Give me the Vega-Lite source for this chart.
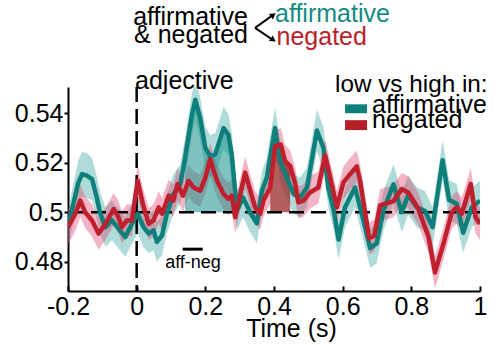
{
  "$schema": "https://vega.github.io/schema/vega-lite/v6.json",
  "width": 412,
  "height": 204,
  "autosize": "none",
  "padding": {"left": 68, "top": 87, "right": 20, "bottom": 54},
  "config": {
    "view": {"stroke": null},
    "font": "Liberation Sans",
    "axis": {
      "grid": false,
      "domainColor": "black",
      "domainWidth": 2,
      "tickColor": "black",
      "tickWidth": 2,
      "labelFont": "Liberation Sans",
      "labelFontSize": 25,
      "labelColor": "black",
      "titleFont": "Liberation Sans",
      "titleFontSize": 25,
      "titleFontWeight": "normal",
      "titleColor": "black"
    }
  },
  "datasets": {
    "one": [{}],
    "series": [
      {"cond": "affirmative", "t": -0.2, "v": 0.494, "lo": 0.4875, "hi": 0.5005},
      {"cond": "affirmative", "t": -0.185, "v": 0.503, "lo": 0.495, "hi": 0.511},
      {"cond": "affirmative", "t": -0.17, "v": 0.512, "lo": 0.503, "hi": 0.521},
      {"cond": "affirmative", "t": -0.159, "v": 0.5154, "lo": 0.5064, "hi": 0.5244},
      {"cond": "affirmative", "t": -0.145, "v": 0.5148, "lo": 0.5058, "hi": 0.5238},
      {"cond": "affirmative", "t": -0.13, "v": 0.5134, "lo": 0.5049, "hi": 0.5219},
      {"cond": "affirmative", "t": -0.118, "v": 0.507, "lo": 0.4985, "hi": 0.5155},
      {"cond": "affirmative", "t": -0.106, "v": 0.4995, "lo": 0.491, "hi": 0.508},
      {"cond": "affirmative", "t": -0.091, "v": 0.494, "lo": 0.486, "hi": 0.502},
      {"cond": "affirmative", "t": -0.072, "v": 0.4967, "lo": 0.4887, "hi": 0.5047},
      {"cond": "affirmative", "t": -0.053, "v": 0.4934, "lo": 0.4854, "hi": 0.5014},
      {"cond": "affirmative", "t": -0.033, "v": 0.49, "lo": 0.482, "hi": 0.498},
      {"cond": "affirmative", "t": -0.014, "v": 0.4953, "lo": 0.4873, "hi": 0.5033},
      {"cond": "affirmative", "t": 0.003, "v": 0.4994, "lo": 0.4914, "hi": 0.5074},
      {"cond": "affirmative", "t": 0.02, "v": 0.494, "lo": 0.486, "hi": 0.502},
      {"cond": "affirmative", "t": 0.035, "v": 0.4914, "lo": 0.4834, "hi": 0.4994},
      {"cond": "affirmative", "t": 0.049, "v": 0.4927, "lo": 0.4847, "hi": 0.5007},
      {"cond": "affirmative", "t": 0.059, "v": 0.488, "lo": 0.48, "hi": 0.496},
      {"cond": "affirmative", "t": 0.074, "v": 0.4907, "lo": 0.4827, "hi": 0.4987},
      {"cond": "affirmative", "t": 0.088, "v": 0.4994, "lo": 0.4914, "hi": 0.5074},
      {"cond": "affirmative", "t": 0.107, "v": 0.5074, "lo": 0.4994, "hi": 0.5154},
      {"cond": "affirmative", "t": 0.127, "v": 0.5114, "lo": 0.5034, "hi": 0.5194},
      {"cond": "affirmative", "t": 0.141, "v": 0.522, "lo": 0.514, "hi": 0.53},
      {"cond": "affirmative", "t": 0.161, "v": 0.5394, "lo": 0.5309, "hi": 0.5479},
      {"cond": "affirmative", "t": 0.171, "v": 0.5454, "lo": 0.5369, "hi": 0.5539},
      {"cond": "affirmative", "t": 0.185, "v": 0.538, "lo": 0.5295, "hi": 0.5465},
      {"cond": "affirmative", "t": 0.2, "v": 0.526, "lo": 0.5175, "hi": 0.5345},
      {"cond": "affirmative", "t": 0.214, "v": 0.5227, "lo": 0.5142, "hi": 0.5312},
      {"cond": "affirmative", "t": 0.229, "v": 0.5234, "lo": 0.5149, "hi": 0.5319},
      {"cond": "affirmative", "t": 0.253, "v": 0.534, "lo": 0.5255, "hi": 0.5425},
      {"cond": "affirmative", "t": 0.267, "v": 0.5314, "lo": 0.5229, "hi": 0.5399},
      {"cond": "affirmative", "t": 0.277, "v": 0.5234, "lo": 0.5149, "hi": 0.5319},
      {"cond": "affirmative", "t": 0.292, "v": 0.5007, "lo": 0.4927, "hi": 0.5087},
      {"cond": "affirmative", "t": 0.31, "v": 0.506, "lo": 0.498, "hi": 0.514},
      {"cond": "affirmative", "t": 0.33, "v": 0.5, "lo": 0.492, "hi": 0.508},
      {"cond": "affirmative", "t": 0.35, "v": 0.4955, "lo": 0.4875, "hi": 0.5035},
      {"cond": "affirmative", "t": 0.365, "v": 0.5087, "lo": 0.5007, "hi": 0.5167},
      {"cond": "affirmative", "t": 0.379, "v": 0.514, "lo": 0.506, "hi": 0.522},
      {"cond": "affirmative", "t": 0.403, "v": 0.534, "lo": 0.5255, "hi": 0.5425},
      {"cond": "affirmative", "t": 0.418, "v": 0.5207, "lo": 0.5127, "hi": 0.5287},
      {"cond": "affirmative", "t": 0.437, "v": 0.514, "lo": 0.506, "hi": 0.522},
      {"cond": "affirmative", "t": 0.457, "v": 0.5074, "lo": 0.4994, "hi": 0.5154},
      {"cond": "affirmative", "t": 0.476, "v": 0.506, "lo": 0.498, "hi": 0.514},
      {"cond": "affirmative", "t": 0.496, "v": 0.51, "lo": 0.502, "hi": 0.518},
      {"cond": "affirmative", "t": 0.525, "v": 0.533, "lo": 0.5245, "hi": 0.5415},
      {"cond": "affirmative", "t": 0.544, "v": 0.526, "lo": 0.5175, "hi": 0.5345},
      {"cond": "affirmative", "t": 0.558, "v": 0.51, "lo": 0.502, "hi": 0.518},
      {"cond": "affirmative", "t": 0.575, "v": 0.5, "lo": 0.492, "hi": 0.508},
      {"cond": "affirmative", "t": 0.588, "v": 0.489, "lo": 0.481, "hi": 0.497},
      {"cond": "affirmative", "t": 0.607, "v": 0.502, "lo": 0.494, "hi": 0.51},
      {"cond": "affirmative", "t": 0.636, "v": 0.51, "lo": 0.502, "hi": 0.518},
      {"cond": "affirmative", "t": 0.66, "v": 0.497, "lo": 0.489, "hi": 0.505},
      {"cond": "affirmative", "t": 0.68, "v": 0.4855, "lo": 0.4775, "hi": 0.4935},
      {"cond": "affirmative", "t": 0.699, "v": 0.4874, "lo": 0.4794, "hi": 0.4954},
      {"cond": "affirmative", "t": 0.719, "v": 0.5008, "lo": 0.4928, "hi": 0.5088},
      {"cond": "affirmative", "t": 0.748, "v": 0.5113, "lo": 0.5033, "hi": 0.5193},
      {"cond": "affirmative", "t": 0.772, "v": 0.5, "lo": 0.492, "hi": 0.508},
      {"cond": "affirmative", "t": 0.791, "v": 0.507, "lo": 0.499, "hi": 0.515},
      {"cond": "affirmative", "t": 0.816, "v": 0.502, "lo": 0.494, "hi": 0.51},
      {"cond": "affirmative", "t": 0.84, "v": 0.5005, "lo": 0.4925, "hi": 0.5085},
      {"cond": "affirmative", "t": 0.862, "v": 0.494, "lo": 0.486, "hi": 0.502},
      {"cond": "affirmative", "t": 0.891, "v": 0.521, "lo": 0.513, "hi": 0.529},
      {"cond": "affirmative", "t": 0.91, "v": 0.505, "lo": 0.497, "hi": 0.513},
      {"cond": "affirmative", "t": 0.932, "v": 0.5034, "lo": 0.4954, "hi": 0.5114},
      {"cond": "affirmative", "t": 0.951, "v": 0.4917, "lo": 0.4837, "hi": 0.4997},
      {"cond": "affirmative", "t": 0.976, "v": 0.502, "lo": 0.494, "hi": 0.51},
      {"cond": "affirmative", "t": 1.0, "v": 0.5047, "lo": 0.4967, "hi": 0.5127},
      {"cond": "negated", "t": -0.2, "v": 0.494, "lo": 0.487, "hi": 0.501},
      {"cond": "negated", "t": -0.18, "v": 0.499, "lo": 0.492, "hi": 0.506},
      {"cond": "negated", "t": -0.164, "v": 0.5047, "lo": 0.4982, "hi": 0.5112},
      {"cond": "negated", "t": -0.15, "v": 0.5, "lo": 0.4935, "hi": 0.5065},
      {"cond": "negated", "t": -0.13, "v": 0.4967, "lo": 0.4902, "hi": 0.5032},
      {"cond": "negated", "t": -0.111, "v": 0.4914, "lo": 0.4849, "hi": 0.4979},
      {"cond": "negated", "t": -0.091, "v": 0.4953, "lo": 0.4888, "hi": 0.5018},
      {"cond": "negated", "t": -0.067, "v": 0.5013, "lo": 0.4948, "hi": 0.5078},
      {"cond": "negated", "t": -0.053, "v": 0.498, "lo": 0.4915, "hi": 0.5045},
      {"cond": "negated", "t": -0.043, "v": 0.494, "lo": 0.4875, "hi": 0.5005},
      {"cond": "negated", "t": -0.028, "v": 0.4967, "lo": 0.4902, "hi": 0.5032},
      {"cond": "negated", "t": -0.014, "v": 0.4967, "lo": 0.4902, "hi": 0.5032},
      {"cond": "negated", "t": 0.003, "v": 0.5127, "lo": 0.5062, "hi": 0.5192},
      {"cond": "negated", "t": 0.018, "v": 0.5034, "lo": 0.4969, "hi": 0.5099},
      {"cond": "negated", "t": 0.035, "v": 0.4953, "lo": 0.4888, "hi": 0.5018},
      {"cond": "negated", "t": 0.049, "v": 0.4967, "lo": 0.4902, "hi": 0.5032},
      {"cond": "negated", "t": 0.064, "v": 0.502, "lo": 0.4955, "hi": 0.5085},
      {"cond": "negated", "t": 0.074, "v": 0.4994, "lo": 0.4929, "hi": 0.5059},
      {"cond": "negated", "t": 0.093, "v": 0.5067, "lo": 0.5002, "hi": 0.5132},
      {"cond": "negated", "t": 0.107, "v": 0.5047, "lo": 0.4982, "hi": 0.5112},
      {"cond": "negated", "t": 0.119, "v": 0.5114, "lo": 0.5049, "hi": 0.5179},
      {"cond": "negated", "t": 0.135, "v": 0.5067, "lo": 0.5002, "hi": 0.5132},
      {"cond": "negated", "t": 0.151, "v": 0.5127, "lo": 0.5062, "hi": 0.5192},
      {"cond": "negated", "t": 0.166, "v": 0.51, "lo": 0.5035, "hi": 0.5165},
      {"cond": "negated", "t": 0.185, "v": 0.5087, "lo": 0.5022, "hi": 0.5152},
      {"cond": "negated", "t": 0.2, "v": 0.514, "lo": 0.5075, "hi": 0.5205},
      {"cond": "negated", "t": 0.214, "v": 0.5214, "lo": 0.5149, "hi": 0.5279},
      {"cond": "negated", "t": 0.234, "v": 0.5127, "lo": 0.5062, "hi": 0.5192},
      {"cond": "negated", "t": 0.253, "v": 0.5074, "lo": 0.5009, "hi": 0.5139},
      {"cond": "negated", "t": 0.267, "v": 0.5054, "lo": 0.4989, "hi": 0.5119},
      {"cond": "negated", "t": 0.277, "v": 0.5067, "lo": 0.5002, "hi": 0.5132},
      {"cond": "negated", "t": 0.287, "v": 0.498, "lo": 0.4915, "hi": 0.5045},
      {"cond": "negated", "t": 0.302, "v": 0.5074, "lo": 0.5009, "hi": 0.5139},
      {"cond": "negated", "t": 0.316, "v": 0.516, "lo": 0.5095, "hi": 0.5225},
      {"cond": "negated", "t": 0.331, "v": 0.5087, "lo": 0.5022, "hi": 0.5152},
      {"cond": "negated", "t": 0.345, "v": 0.502, "lo": 0.4955, "hi": 0.5085},
      {"cond": "negated", "t": 0.36, "v": 0.4994, "lo": 0.4929, "hi": 0.5059},
      {"cond": "negated", "t": 0.369, "v": 0.5047, "lo": 0.4982, "hi": 0.5112},
      {"cond": "negated", "t": 0.389, "v": 0.51, "lo": 0.5035, "hi": 0.5165},
      {"cond": "negated", "t": 0.403, "v": 0.5267, "lo": 0.5202, "hi": 0.5332},
      {"cond": "negated", "t": 0.42, "v": 0.5274, "lo": 0.5209, "hi": 0.5339},
      {"cond": "negated", "t": 0.432, "v": 0.5207, "lo": 0.5142, "hi": 0.5272},
      {"cond": "negated", "t": 0.447, "v": 0.5187, "lo": 0.5122, "hi": 0.5252},
      {"cond": "negated", "t": 0.462, "v": 0.5114, "lo": 0.5049, "hi": 0.5179},
      {"cond": "negated", "t": 0.471, "v": 0.504, "lo": 0.4975, "hi": 0.5105},
      {"cond": "negated", "t": 0.486, "v": 0.5047, "lo": 0.4982, "hi": 0.5112},
      {"cond": "negated", "t": 0.505, "v": 0.508, "lo": 0.5015, "hi": 0.5145},
      {"cond": "negated", "t": 0.529, "v": 0.51, "lo": 0.5035, "hi": 0.5165},
      {"cond": "negated", "t": 0.549, "v": 0.523, "lo": 0.5165, "hi": 0.5295},
      {"cond": "negated", "t": 0.568, "v": 0.5114, "lo": 0.5049, "hi": 0.5179},
      {"cond": "negated", "t": 0.583, "v": 0.502, "lo": 0.4955, "hi": 0.5085},
      {"cond": "negated", "t": 0.602, "v": 0.512, "lo": 0.5055, "hi": 0.5185},
      {"cond": "negated", "t": 0.622, "v": 0.5155, "lo": 0.509, "hi": 0.522},
      {"cond": "negated", "t": 0.641, "v": 0.5185, "lo": 0.512, "hi": 0.525},
      {"cond": "negated", "t": 0.651, "v": 0.5127, "lo": 0.5062, "hi": 0.5192},
      {"cond": "negated", "t": 0.677, "v": 0.4895, "lo": 0.483, "hi": 0.496},
      {"cond": "negated", "t": 0.692, "v": 0.4905, "lo": 0.484, "hi": 0.497},
      {"cond": "negated", "t": 0.709, "v": 0.5028, "lo": 0.4963, "hi": 0.5093},
      {"cond": "negated", "t": 0.748, "v": 0.5045, "lo": 0.498, "hi": 0.511},
      {"cond": "negated", "t": 0.772, "v": 0.5094, "lo": 0.5029, "hi": 0.5159},
      {"cond": "negated", "t": 0.791, "v": 0.508, "lo": 0.5015, "hi": 0.5145},
      {"cond": "negated", "t": 0.82, "v": 0.5015, "lo": 0.495, "hi": 0.508},
      {"cond": "negated", "t": 0.85, "v": 0.49, "lo": 0.4835, "hi": 0.4965},
      {"cond": "negated", "t": 0.869, "v": 0.4757, "lo": 0.4692, "hi": 0.4822},
      {"cond": "negated", "t": 0.893, "v": 0.487, "lo": 0.4805, "hi": 0.4935},
      {"cond": "negated", "t": 0.918, "v": 0.5, "lo": 0.4935, "hi": 0.5065},
      {"cond": "negated", "t": 0.932, "v": 0.502, "lo": 0.4955, "hi": 0.5085},
      {"cond": "negated", "t": 0.947, "v": 0.4994, "lo": 0.4929, "hi": 0.5059},
      {"cond": "negated", "t": 0.973, "v": 0.5115, "lo": 0.505, "hi": 0.518},
      {"cond": "negated", "t": 0.987, "v": 0.498, "lo": 0.4915, "hi": 0.5045},
      {"cond": "negated", "t": 1.0, "v": 0.4953, "lo": 0.4888, "hi": 0.5018}
    ]
  },
  "layer": [
    {
      "data": {"name": "series"},
      "transform": [{"filter": "datum.cond == 'affirmative'"}],
      "mark": {"type": "area", "color": "#1a9990", "opacity": 0.35, "clip": true},
      "encoding": {
        "x": {"field": "t", "type": "quantitative", "scale": {"domain": [-0.2, 1], "nice": false, "zero": false},
          "axis": {"values": [-0.2, 0, 0.2, 0.4, 0.6, 0.8, 1], "labelExpr": "datum.value + ''", "tickSize": -5, "labelPadding": 8, "title": "Time (s)", "titleX": 223, "titleY": 45, "titleAlign": "center", "titleAnchor": null, "titleBaseline": "alphabetic", "labelFlush": false}},
        "y": {"field": "lo", "type": "quantitative", "scale": {"domain": [0.4682, 0.5506], "nice": false, "zero": false},
          "axis": {"values": [0.48, 0.5, 0.52, 0.54], "labelExpr": "datum.value + ''", "tickSize": 4, "labelPadding": 1, "title": null}},
        "y2": {"field": "hi"}
      }
    },
    {
      "data": {"name": "series"},
      "transform": [{"filter": "datum.cond == 'negated'"}],
      "mark": {"type": "area", "color": "#e0466e", "opacity": 0.4, "clip": true},
      "encoding": {
        "x": {"field": "t", "type": "quantitative"},
        "y": {"field": "lo", "type": "quantitative"},
        "y2": {"field": "hi"}
      }
    },
    {
      "data": {"name": "series"},
      "transform": [{"filter": "datum.cond == 'affirmative' && datum.t >= 0.14 && datum.t <= 0.293"}],
      "mark": {"type": "area", "color": "#14918a", "opacity": 0.55, "clip": true},
      "encoding": {
        "x": {"field": "t", "type": "quantitative"},
        "y": {"field": "v", "type": "quantitative"},
        "y2": {"datum": 0.5}
      }
    },
    {
      "data": {"name": "series"},
      "transform": [{"filter": "datum.cond == 'negated' && datum.t >= 0.388 && datum.t <= 0.448"}],
      "mark": {"type": "area", "color": "#9a2a2a", "opacity": 0.75, "clip": true},
      "encoding": {
        "x": {"field": "t", "type": "quantitative"},
        "y": {"field": "v", "type": "quantitative"},
        "y2": {"datum": 0.5}
      }
    },
    {
      "data": {"name": "one"},
      "mark": {"type": "rule", "color": "black", "strokeWidth": 2.5, "strokeDash": [15, 7]},
      "encoding": {"y": {"datum": 0.5}}
    },
    {
      "data": {"name": "one"},
      "mark": {"type": "rule", "color": "black", "strokeWidth": 2.5, "strokeDash": [15, 7]},
      "encoding": {"x": {"datum": 0}}
    },
    {
      "data": {"name": "series"},
      "mark": {"type": "line", "strokeWidth": 4.5, "strokeJoin": "round", "clip": true},
      "encoding": {
        "x": {"field": "t", "type": "quantitative"},
        "y": {"field": "v", "type": "quantitative"},
        "stroke": {"field": "cond", "type": "nominal", "scale": {"domain": ["affirmative", "negated"], "range": ["#0e7f7a", "#c01f2e"]}, "legend": null}
      }
    },
    {
      "data": {"name": "one"},
      "mark": {"type": "text", "text": "low vs high in:", "fontSize": 24.3, "align": "left", "baseline": "alphabetic", "color": "black"},
      "encoding": {"x": {"datum": 0.5777}, "y": {"datum": 0.5486}}
    },
    {
      "data": {"name": "one"},
      "mark": {"type": "rect", "color": "#0e7f7a"},
      "encoding": {"x": {"datum": 0.6069}, "x2": {"datum": 0.671}, "y": {"datum": 0.5436}, "y2": {"datum": 0.54}}
    },
    {
      "data": {"name": "one"},
      "mark": {"type": "rect", "color": "#b52026"},
      "encoding": {"x": {"datum": 0.6069}, "x2": {"datum": 0.671}, "y": {"datum": 0.5372}, "y2": {"datum": 0.5332}}
    },
    {
      "data": {"name": "one"},
      "mark": {"type": "text", "text": "affirmative", "fontSize": 25, "align": "left", "baseline": "alphabetic", "color": "black"},
      "encoding": {"x": {"datum": 0.6855}, "y": {"datum": 0.54}}
    },
    {
      "data": {"name": "one"},
      "mark": {"type": "text", "text": "negated", "fontSize": 25, "align": "left", "baseline": "alphabetic", "color": "black"},
      "encoding": {"x": {"datum": 0.6855}, "y": {"datum": 0.5339}}
    },
    {
      "data": {"name": "one"},
      "mark": {"type": "rule", "color": "black", "strokeWidth": 3},
      "encoding": {"x": {"datum": 0.1341}, "x2": {"datum": 0.1924}, "y": {"datum": 0.4851}}
    },
    {
      "data": {"name": "one"},
      "mark": {"type": "text", "text": "aff-neg", "fontSize": 18, "align": "center", "baseline": "alphabetic", "color": "black"},
      "encoding": {"x": {"datum": 0.1641}, "y": {"datum": 0.4774}}
    },
    {
      "data": {"name": "one"},
      "mark": {"type": "text", "text": "adjective", "fontSize": 25, "align": "left", "baseline": "alphabetic", "color": "black"},
      "encoding": {"x": {"datum": -0.0048}, "y": {"datum": 0.5498}}
    },
    {
      "data": {"name": "one"},
      "mark": {"type": "text", "text": "affirmative", "fontSize": 25, "align": "right", "baseline": "alphabetic", "color": "black"},
      "encoding": {"x": {"datum": 0.3243}, "y": {"datum": 0.5757}}
    },
    {
      "data": {"name": "one"},
      "mark": {"type": "text", "text": "& negated", "fontSize": 25, "align": "right", "baseline": "alphabetic", "color": "black"},
      "encoding": {"x": {"datum": 0.3243}, "y": {"datum": 0.5684}}
    },
    {
      "data": {"name": "one"},
      "mark": {"type": "text", "text": "affirmative", "fontSize": 25, "align": "left", "baseline": "alphabetic", "color": "#138a83"},
      "encoding": {"x": {"datum": 0.403}, "y": {"datum": 0.5768}}
    },
    {
      "data": {"name": "one"},
      "mark": {"type": "text", "text": "negated", "fontSize": 25, "align": "left", "baseline": "alphabetic", "color": "#b8222b"},
      "encoding": {"x": {"datum": 0.4074}, "y": {"datum": 0.5676}}
    },
    {
      "data": {"name": "one"},
      "mark": {"type": "rule", "color": "black", "strokeWidth": 2},
      "encoding": {"x": {"datum": 0.3447}, "y": {"datum": 0.5745}, "x2": {"datum": 0.395}, "y2": {"datum": 0.5795}}
    },
    {
      "data": {"name": "one"},
      "mark": {"type": "rule", "color": "black", "strokeWidth": 2},
      "encoding": {"x": {"datum": 0.3447}, "y": {"datum": 0.5745}, "x2": {"datum": 0.395}, "y2": {"datum": 0.5698}}
    },
    {
      "data": {"name": "one"},
      "mark": {"type": "point", "shape": "triangle-up", "filled": true, "color": "black", "size": 45, "opacity": 1, "angle": 54},
      "encoding": {"x": {"datum": 0.398}, "y": {"datum": 0.5797}}
    },
    {
      "data": {"name": "one"},
      "mark": {"type": "point", "shape": "triangle-up", "filled": true, "color": "black", "size": 45, "opacity": 1, "angle": 124},
      "encoding": {"x": {"datum": 0.398}, "y": {"datum": 0.5696}}
    }
  ]
}
